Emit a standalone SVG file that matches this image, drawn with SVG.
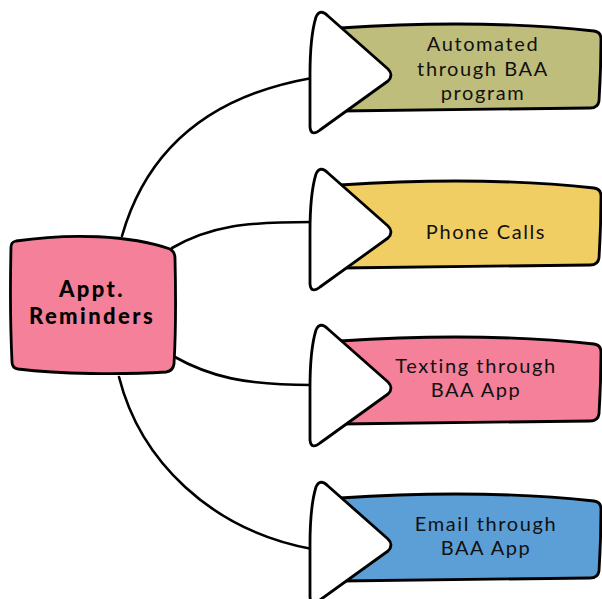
<svg xmlns="http://www.w3.org/2000/svg" width="602" height="599" viewBox="0 0 602 599">
  <style>
    .edge { fill: none; stroke: #000; stroke-width: 2.6; stroke-linecap: round; }
    .outline { stroke: #000; stroke-width: 2.8; stroke-linejoin: round; }
    .arrow { fill: #fff; stroke: #000; stroke-width: 2.8; stroke-linejoin: round; }
    .label { font-family: Lato, "Liberation Sans", sans-serif; font-size: 20px; fill: #111; text-anchor: middle; letter-spacing: 1.6px; }
    .hub { font-family: Lato, "Liberation Sans", sans-serif; font-size: 22px; font-weight: 900; fill: #000; text-anchor: middle; letter-spacing: 2.4px; }
  </style>
  <defs>
    <!-- ribbon body, drawn around the arrow tip line (y = 0) -->
    <path id="ribbon" d="M340,-47 C430,-53 520,-52 594,-44 Q601,-43 601,-36 C601,-10 600,10 599,26 Q598,33 590,33 L340,36 Z"/>
    <!-- rounded white arrow head, tip at (81,0) -->
    <path id="head" d="M6,-58 Q10,-67 18,-59 L78,-6 Q84,0 78,6 L10,55 Q1,62 0,52 L0,0 C0,-25 2,-45 6,-58 Z"/>
  </defs>

  <g id="connectors">
    <path class="edge" d="M122,236 C148,145 215,95 312,78"/>
    <path class="edge" d="M172,248 C210,226 245,222 312,222"/>
    <path class="edge" d="M173,356 C210,377 245,385 312,385"/>
    <path class="edge" d="M119,377 C140,460 210,530 312,549"/>
  </g>

  <g id="hub">
    <path class="outline" fill="#F4809A" d="M16,241 C70,233 130,235 170,249 Q175,252 175,258 C176,300 176,330 174,364 Q173,371 166,372 C120,375 60,374 18,369 Q12,368 12,362 C10,320 10,290 11,247 Q11,242 16,241 Z"/>
    <text class="hub" x="92" y="297">Appt.</text>
    <text class="hub" x="92" y="324">Reminders</text>
  </g>

  <g id="automated">
    <use href="#ribbon" class="outline" fill="#BFBD7B" transform="translate(0,75)"/>
    <use href="#head" class="arrow" transform="translate(310,75)"/>
    <text class="label" x="483" y="51">Automated</text>
    <text class="label" x="483" y="75.5">through BAA</text>
    <text class="label" x="483" y="99.5">program</text>
  </g>

  <g id="phone">
    <use href="#ribbon" class="outline" fill="#F0CE64" transform="translate(0,232)"/>
    <use href="#head" class="arrow" transform="translate(310,232)"/>
    <text class="label" x="486" y="239">Phone Calls</text>
  </g>

  <g id="texting">
    <use href="#ribbon" class="outline" fill="#F4809A" transform="translate(0,388)"/>
    <use href="#head" class="arrow" transform="translate(310,388)"/>
    <text class="label" x="476" y="373">Texting through</text>
    <text class="label" x="476" y="397">BAA App</text>
  </g>

  <g id="email">
    <use href="#ribbon" class="outline" fill="#5C9FD6" transform="translate(0,545)"/>
    <use href="#head" class="arrow" transform="translate(310,545)"/>
    <text class="label" x="486" y="531">Email through</text>
    <text class="label" x="486" y="555">BAA App</text>
  </g>
</svg>
